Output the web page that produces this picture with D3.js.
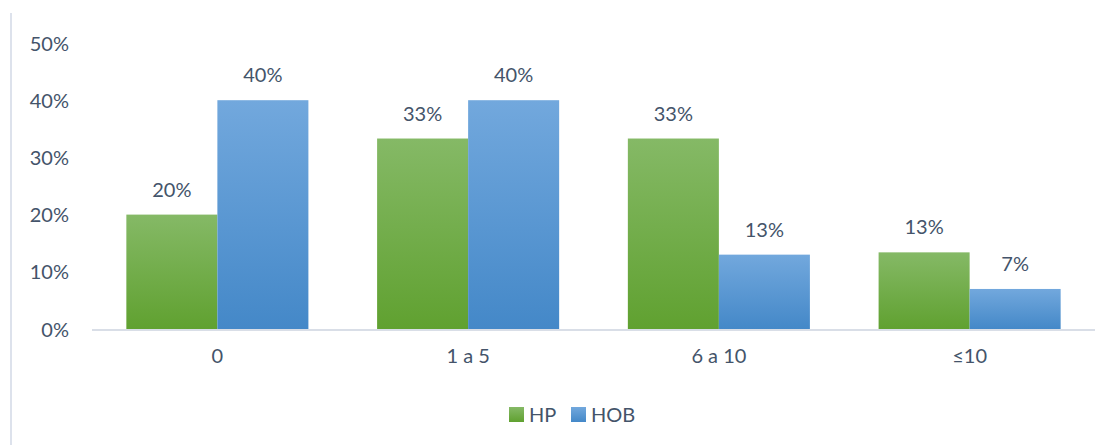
<!DOCTYPE html>
<html>
<head>
<meta charset="utf-8">
<script src="https://cdn.jsdelivr.net/npm/d3@7"></script>
<style>
  html, body { margin: 0; padding: 0; background: #fff; }
  svg { display: block; }
  text { font-family: Lato, "Open Sans", sans-serif; fill: #44546a; }
</style>
</head>
<body>
<svg id="chart" width="1113" height="445"></svg>
<script>
// Share of respondents per category, by group
const categories = ["0", "1 a 5", "6 a 10", "≤10"];
const seriesNames = ["HP", "HOB"];
const hpValues = [0.20, 0.333, 0.333, 0.134];
const hobValues = [0.40, 0.40, 0.13, 0.07];
const yTicks = [0, 0.1, 0.2, 0.3, 0.4, 0.5];

const W = 1113, H = 445;
const margin = { top: 43, right: 18, bottom: 116, left: 92 };
const svg = d3.select("#chart");

// Gradients for the two series
const defs = svg.append("defs");
const gradStops = {
  HP: ["#85b966", "#60a130"],
  HOB: ["#72a8dd", "#4488c8"]
};
seriesNames.forEach(name => {
  const g = defs.append("linearGradient")
    .attr("id", "grad-" + name)
    .attr("x1", 0).attr("y1", 0).attr("x2", 0).attr("y2", 1);
  g.append("stop").attr("offset", "0%").attr("stop-color", gradStops[name][0]);
  g.append("stop").attr("offset", "100%").attr("stop-color", gradStops[name][1]);
});

// Frame line on the left edge
svg.append("line")
  .attr("x1", 11).attr("x2", 11)
  .attr("y1", 13).attr("y2", H)
  .attr("stroke", "#dde2ec").attr("stroke-width", 2);

const x0 = d3.scaleBand()
  .domain(categories)
  .range([margin.left, W - margin.right])
  .paddingInner(0.274)
  .paddingOuter(0.137);

const x1 = d3.scaleBand()
  .domain(seriesNames)
  .range([0, x0.bandwidth()]);

const y = d3.scaleLinear()
  .domain([0, 0.5])
  .range([H - margin.bottom, margin.top]);

const data = categories.map((c, i) => ({
  category: c,
  values: [
    { key: "HP", value: hpValues[i] },
    { key: "HOB", value: hobValues[i] }
  ]
}));

// Y axis labels (no line, no ticks)
const yAxis = svg.append("g")
  .attr("transform", `translate(${margin.left - 23},0)`)
  .call(d3.axisLeft(y).tickValues(yTicks).tickFormat(d3.format(".0%")).tickSize(0).tickPadding(0));
yAxis.select(".domain").remove();
yAxis.selectAll("text")
  .style("font-size", "20px")
  .attr("fill", "#44546a")
  .attr("dy", "0.35em");

// Bars
const groups = svg.append("g").selectAll("g")
  .data(data)
  .join("g")
  .attr("transform", d => `translate(${x0(d.category)},0)`);

groups.selectAll("rect")
  .data(d => d.values)
  .join("rect")
  .attr("x", d => x1(d.key))
  .attr("width", x1.bandwidth())
  .attr("y", d => y(d.value))
  .attr("height", d => y(0) - y(d.value))
  .attr("fill", d => `url(#grad-${d.key})`);

// Value labels
groups.selectAll("text.val")
  .data(d => d.values)
  .join("text")
  .attr("class", "val")
  .attr("x", d => x1(d.key) + x1.bandwidth() / 2)
  .attr("y", d => y(d.value) - 18)
  .attr("text-anchor", "middle")
  .style("font-size", "20px")
  .text(d => d3.format(".0%")(d.value));

// X axis baseline and category labels
const xAxis = svg.append("g")
  .attr("transform", `translate(0,${y(0)})`)
  .call(d3.axisBottom(x0).tickSize(0).tickPadding(20));
xAxis.select(".domain")
  .attr("stroke", "#d9dee7")
  .attr("stroke-width", 2)
  .attr("d", `M${margin.left},1H${W - margin.right}`);
xAxis.selectAll("text")
  .style("font-size", "20px")
  .attr("fill", "#44546a");

// Legend
const legend = svg.append("g").attr("transform", "translate(509,407)");
const legendX = [0, 62];
seriesNames.forEach((name, i) => {
  const item = legend.append("g").attr("transform", `translate(${legendX[i]},0)`);
  item.append("rect")
    .attr("width", 15).attr("height", 15)
    .attr("fill", `url(#grad-${name})`);
  item.append("text")
    .attr("x", 20).attr("y", 7.5)
    .attr("dy", "0.35em")
    .style("font-size", "20px")
    .text(name);
});
</script>
</body>
</html>
